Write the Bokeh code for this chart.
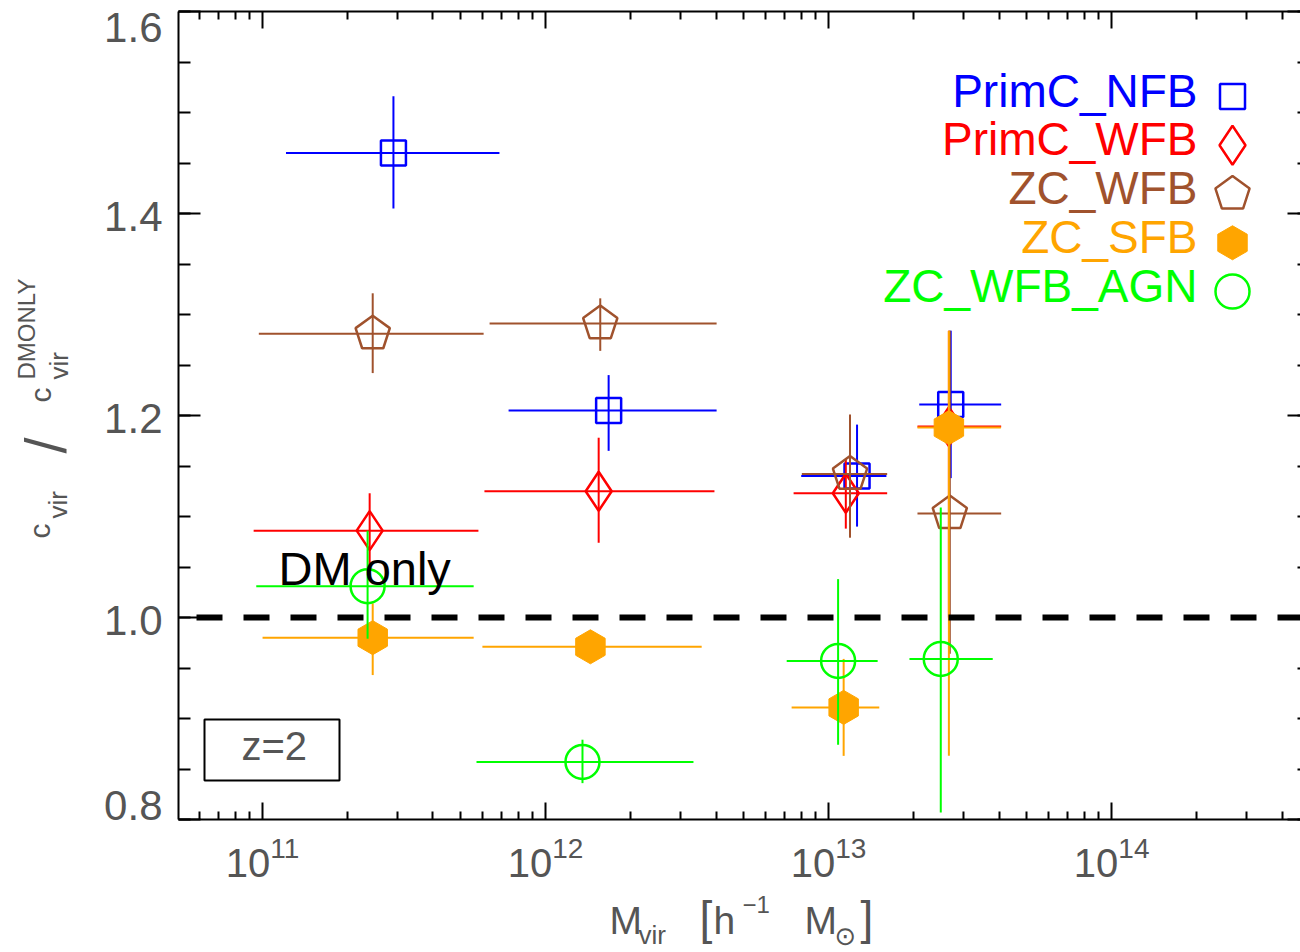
import math
import numpy as np
from bokeh.plotting import figure
from bokeh.models import (Range1d, LogAxis, LinearAxis, FixedTicker, Label,
                          BoxAnnotation, LogTickFormatter)
from bokeh.embed import file_html
from bokeh.resources import INLINE

# ---------------------------------------------------------------- data
series_names = ["PrimC_NFB", "PrimC_WFB", "ZC_WFB", "ZC_SFB", "ZC_WFB_AGN"]
series_colors = ["#0000ff", "#ff0000", "#a0522d", "#ffa500", "#00ff00"]

# halo mass bins [h^-1 Msun]: centre, lower edge, upper edge
# concentration ratio c_vir / c_vir(DM only): value, lower, upper error
nfb_mvir = [2.90e11, 1.67e12, 1.26e13, 2.70e13]
nfb_mvir_lo = [1.21e11, 7.40e11, 8.00e12, 2.09e13]
nfb_mvir_hi = [6.87e11, 4.02e12, 1.60e13, 4.07e13]
nfb_ratio = [1.460, 1.205, 1.140, 1.211]
nfb_ratio_lo = [1.405, 1.165, 1.090, 1.138]
nfb_ratio_hi = [1.516, 1.240, 1.191, 1.284]

wfb_mvir = [2.39e11, 1.54e12, 1.15e13, 2.66e13]
wfb_mvir_lo = [9.30e10, 6.08e11, 7.52e12, 2.06e13]
wfb_mvir_hi = [5.79e11, 3.95e12, 1.61e13, 4.07e13]
wfb_ratio = [1.086, 1.125, 1.123, 1.189]
wfb_ratio_lo = [1.050, 1.074, 1.088, 1.000]
wfb_ratio_hi = [1.123, 1.178, 1.157, 1.284]

zcw_mvir = [2.45e11, 1.56e12, 1.19e13, 2.68e13]
zcw_mvir_lo = [9.70e10, 6.34e11, 8.04e12, 2.06e13]
zcw_mvir_hi = [6.04e11, 4.02e12, 1.61e13, 4.07e13]
zcw_ratio = [1.281, 1.291, 1.142, 1.103]
zcw_ratio_lo = [1.242, 1.264, 1.079, 0.964]
zcw_ratio_hi = [1.321, 1.316, 1.201, 1.284]

zcs_mvir = [2.45e11, 1.44e12, 1.13e13, 2.66e13]
zcs_mvir_lo = [1.00e11, 5.98e11, 7.40e12, 2.06e13]
zcs_mvir_hi = [5.57e11, 3.56e12, 1.51e13, 4.06e13]
zcs_ratio = [0.980, 0.971, 0.911, 1.188]
zcs_ratio_lo = [0.943, 0.960, 0.863, 0.863]
zcs_ratio_hi = [1.014, 0.982, 0.959, 1.284]

agn_mvir = [2.35e11, 1.35e12, 1.08e13, 2.49e13]
agn_mvir_lo = [9.50e10, 5.70e11, 7.11e12, 1.93e13]
agn_mvir_hi = [5.57e11, 3.33e12, 1.49e13, 3.80e13]
agn_ratio = [1.031, 0.857, 0.957, 0.959]
agn_ratio_lo = [0.979, 0.836, 0.874, 0.807]
agn_ratio_hi = [1.086, 0.879, 1.038, 1.109]

x_major_ticks = [1e11, 1e12, 1e13, 1e14]
y_major_ticks = [0.8, 1.0, 1.2, 1.4, 1.6]
y_tick_labels = ["0.8", "1.0", "1.2", "1.4", "1.6"]
dm_only_level = 1.0
dm_only_text = "DM only"
redshift_text = "z=2"

# ---------------------------------------------------------------- layout
W, H = 1300, 952
BOX_X = (10 ** 10.703, 5e14)          # data extent of the axes box
BOX_Y = (0.8, 1.6)
BOX_L, BOX_R, BOX_T, BOX_B = 178, 1309, 11, 819   # its edges on the canvas
FONT = "Liberation Sans"
AXIS_TEXT = "#555555"
BASELINE_SHIFT = 0.386                 # alphabetic-baseline correction, in em

LX0, LX1 = math.log10(BOX_X[0]), math.log10(BOX_X[1])
PX_PER_DEC = (BOX_R - BOX_L) / (LX1 - LX0)
PX_PER_UNIT = (BOX_B - BOX_T) / (BOX_Y[1] - BOX_Y[0])
# the plotting frame fills the canvas; the axes box sits inside it
X_START = 10 ** (LX0 - BOX_L / PX_PER_DEC)
X_END = 10 ** (LX1 + (W - BOX_R) / PX_PER_DEC)
Y_START = BOX_Y[0] - (H - BOX_B) / PX_PER_UNIT
Y_END = BOX_Y[1] + BOX_T / PX_PER_UNIT


def canvas_to_data(cx, cy):
    return (10 ** (LX0 + (cx - BOX_L) / PX_PER_DEC),
            BOX_Y[0] + (BOX_B - cy) / PX_PER_UNIT)


p = figure(width=W, height=H, x_axis_type="log",
           x_range=Range1d(X_START, X_END), y_range=Range1d(Y_START, Y_END),
           output_backend="svg", toolbar_location=None,
           min_border_left=0, min_border_right=0,
           min_border_top=0, min_border_bottom=0)
p.outline_line_color = None
p.xgrid.visible = False
p.ygrid.visible = False
p.background_fill_color = "white"
p.border_fill_color = "white"


def add_text(txt, cx, cy, size, color=AXIS_TEXT, font=FONT, align="left", angle=0.0):
    """text whose alphabetic baseline starts at canvas point (cx, cy)"""
    shift = BASELINE_SHIFT * size
    if angle == 0:
        cy -= shift
    else:
        cx -= shift
    p.add_layout(Label(x=cx, y=H - cy, x_units="screen", y_units="screen",
                       text=txt, angle=angle, text_align=align,
                       text_baseline="alphabetic", text_font=font,
                       text_font_size=f"{size}px", text_color=color))


# minor ticks only inside the axes box
x_minor = [m * 10.0 ** e for e in range(10, 15) for m in range(2, 10)
           if BOX_X[0] <= m * 10.0 ** e <= BOX_X[1]]
y_minor = [round(v, 2) for v in np.arange(0.8, 1.6001, 0.05)]


def style_axis(ax, major_len, minor_len, show_line=True):
    ax.axis_line_width = 2
    ax.axis_line_color = "black" if show_line else None
    ax.major_tick_in = major_len
    ax.major_tick_out = 0
    ax.minor_tick_in = minor_len
    ax.minor_tick_out = 0
    ax.major_tick_line_width = 2
    ax.minor_tick_line_width = 2
    ax.major_tick_line_color = "black"
    ax.minor_tick_line_color = "black"


def hide_labels(ax):
    ax.major_label_text_font_size = "1px"
    ax.major_label_text_color = None
    ax.major_label_standoff = 0


# bottom axis with 10^n labels
xb = p.xaxis[0]
xb.ticker = FixedTicker(ticks=x_major_ticks, minor_ticks=x_minor)
xb.formatter = LogTickFormatter()
xb.fixed_location = BOX_Y[0]
xb.bounds = BOX_X
style_axis(xb, 17, 8)
xb.major_label_text_font = FONT
xb.major_label_text_font_size = "40px"
xb.major_label_text_color = AXIS_TEXT
xb.major_label_standoff = 16

# top axis: ticks only
xt = LogAxis(ticker=FixedTicker(ticks=x_major_ticks, minor_ticks=x_minor),
             fixed_location=BOX_Y[1], bounds=BOX_X)
style_axis(xt, 17, 8)
hide_labels(xt)
p.add_layout(xt, "above")

# left axis: ticks, labels drawn separately
yl = p.yaxis[0]
yl.ticker = FixedTicker(ticks=y_major_ticks, minor_ticks=y_minor)
yl.fixed_location = BOX_X[0]
yl.bounds = BOX_Y
style_axis(yl, 22, 12)
hide_labels(yl)

# right axis: inward ticks only
yr = LinearAxis(ticker=FixedTicker(ticks=y_major_ticks, minor_ticks=y_minor),
                fixed_location=BOX_X[1], bounds=BOX_Y)
style_axis(yr, 22, 12, show_line=False)
hide_labels(yr)
p.add_layout(yr, "right")

# y tick labels (baseline below the tick; end labels pulled inside the box)
label_drop = {0.8: 2, 1.6: 32}
for val, txt in zip(y_major_ticks, y_tick_labels):
    p.add_layout(Label(x=162, y=val, x_units="screen", y_units="data",
                       y_offset=BASELINE_SHIFT * 42 - label_drop.get(val, 19),
                       text=txt, text_align="right", text_baseline="alphabetic",
                       text_font=FONT, text_font_size="42px",
                       text_color=AXIS_TEXT))

# ---------------------------------------------------------------- series
series = [
    (nfb_mvir, nfb_mvir_lo, nfb_mvir_hi, nfb_ratio, nfb_ratio_lo, nfb_ratio_hi),
    (wfb_mvir, wfb_mvir_lo, wfb_mvir_hi, wfb_ratio, wfb_ratio_lo, wfb_ratio_hi),
    (zcw_mvir, zcw_mvir_lo, zcw_mvir_hi, zcw_ratio, zcw_ratio_lo, zcw_ratio_hi),
    (zcs_mvir, zcs_mvir_lo, zcs_mvir_hi, zcs_ratio, zcs_ratio_lo, zcs_ratio_hi),
    (agn_mvir, agn_mvir_lo, agn_mvir_hi, agn_ratio, agn_ratio_lo, agn_ratio_hi),
]


def draw_marker(kind, x, y, color):
    if kind == "square":
        p.scatter(x, y, marker="square", size=25, line_color=color,
                  line_width=2.5, fill_color=None)
    elif kind == "diamond":
        p.scatter(x, y, marker="diamond", size=39, line_color=color,
                  line_width=2.5, fill_color=None)
    elif kind == "pentagon":
        p.ngon(x, y, radius=18, radius_units="screen", n=5, angle=0,
               line_color=color, line_width=2.5, fill_color=None)
    elif kind == "hex":
        p.scatter(x, y, marker="hex", size=34, angle=math.pi / 2,
                  line_color=color, fill_color=color)
    else:
        p.scatter(x, y, marker="circle", size=34, line_color=color,
                  line_width=2.5, fill_color=None)


marker_kinds = ["square", "diamond", "pentagon", "hex", "circle"]

for (m, mlo, mhi, r, rlo, rhi), color, kind in zip(series, series_colors, marker_kinds):
    p.segment(x0=mlo, y0=r, x1=mhi, y1=r, line_color=color, line_width=2)
    p.segment(x0=m, y0=rlo, x1=m, y1=rhi, line_color=color, line_width=2)
    draw_marker(kind, m, r, color)

# DM-only reference level across the axes box
p.segment(x0=[BOX_X[0]], y0=[dm_only_level], x1=[BOX_X[1]], y1=[dm_only_level],
          line_color="black", line_width=6, line_dash="26 21", line_dash_offset=29)
p.add_layout(Label(x=278, y=dm_only_level, x_units="screen", y_units="data",
                   y_offset=31 + BASELINE_SHIFT * 47, text=dm_only_text,
                   text_align="left", text_baseline="alphabetic", text_font=FONT,
                   text_font_size="47px", text_color="black"))

# redshift tag
p.add_layout(BoxAnnotation(left=204, right=339, top=H - 719, bottom=H - 780,
                           left_units="screen", right_units="screen",
                           top_units="screen", bottom_units="screen",
                           fill_color=None, line_color="black", line_alpha=1.0,
                           line_width=2))
add_text(redshift_text, 241, 761, 40)

# legend: coloured names right-aligned, symbol to the right
LEG_TEXT_RIGHT, LEG_SYMBOL_X = 1197, 1232
LEG_BASE0, LEG_STEP = 108, 48.75
for i, (name, color, kind) in enumerate(zip(series_names, series_colors, marker_kinds)):
    base = LEG_BASE0 + i * LEG_STEP
    add_text(name, LEG_TEXT_RIGHT, base, 46, color=color, align="right")
    lx, ly = canvas_to_data(LEG_SYMBOL_X, base - 12)
    draw_marker(kind, [lx], [ly], color)

# ---------------------------------------------------------------- axis titles
# y title: c_vir / c_vir^DMONLY, written bottom-to-top
for txt, bx, by, fs in [("c", 51, 538, 30), ("vir", 68, 518, 26),
                        ("/", 67, 453, 58), ("c", 52, 402, 30),
                        ("vir", 69, 379, 26), ("DMONLY", 35, 379, 24)]:
    add_text(txt, bx, by, fs, angle=math.pi / 2)

# x title: M_vir [h^-1 M_sun]
for txt, bx, by, fs, fnt in [("M", 609, 935, 39, FONT), ("vir", 638, 945, 26, FONT),
                             ("[", 699, 935, 46, FONT), ("h", 713, 935, 39, FONT),
                             ("\u22121", 742, 913, 24, FONT), ("M", 804, 935, 39, FONT),
                             ("\u2299", 834, 946, 26, "DejaVu Sans"),
                             ("]", 860, 935, 46, FONT)]:
    add_text(txt, bx, by, fs, font=fnt)

open("out.html", "w").write(file_html(p, INLINE))
